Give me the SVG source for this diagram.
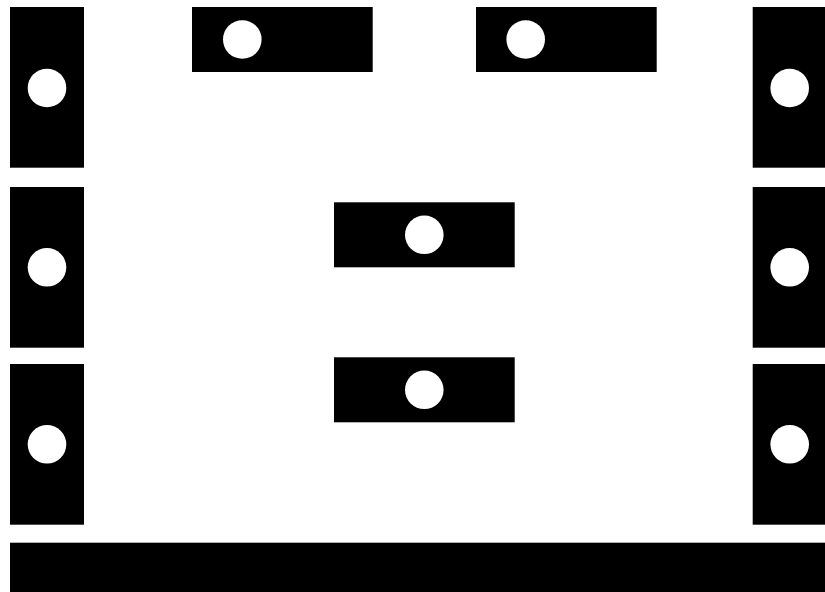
<svg xmlns="http://www.w3.org/2000/svg" width="825" height="592" viewBox="0 0 825 592">
<style>
.b{fill:#000}
.w{fill:#fff}
</style>
<rect width="825" height="592" fill="#fff"/>
<g id="left1"><rect class="b" x="10" y="7" width="74" height="160.7"/><circle class="w" cx="47" cy="88" r="19.3"/></g>
<g id="left2"><rect class="b" x="10" y="187" width="74" height="160.7"/><circle class="w" cx="47" cy="267.3" r="19.3"/></g>
<g id="left3"><rect class="b" x="10" y="364" width="74" height="160.7"/><circle class="w" cx="47" cy="444.3" r="19.3"/></g>
<g id="right1"><rect class="b" x="752.7" y="7" width="72.3" height="160.7"/><circle class="w" cx="789.7" cy="88" r="19.3"/></g>
<g id="right2"><rect class="b" x="752.7" y="187" width="72.3" height="160.7"/><circle class="w" cx="789.7" cy="267.3" r="19.3"/></g>
<g id="right3"><rect class="b" x="752.7" y="364" width="72.3" height="160.7"/><circle class="w" cx="789.7" cy="444.3" r="19.3"/></g>
<g id="top1"><rect class="b" x="192" y="7" width="180.7" height="65"/><circle class="w" cx="242.3" cy="39.5" r="19.3"/></g>
<g id="top2"><rect class="b" x="476" y="7" width="180.7" height="65"/><circle class="w" cx="525.7" cy="39.5" r="19.3"/></g>
<g id="mid1"><rect class="b" x="334" y="202.3" width="180.7" height="65"/><circle class="w" cx="424.3" cy="234.8" r="19.3"/></g>
<g id="mid2"><rect class="b" x="334" y="357.3" width="180.7" height="65"/><circle class="w" cx="424.3" cy="389.8" r="19.3"/></g>
<g id="bottom"><rect class="b" x="10" y="542.7" width="815" height="49.3"/></g>
<g id="connectors"/>
</svg>
